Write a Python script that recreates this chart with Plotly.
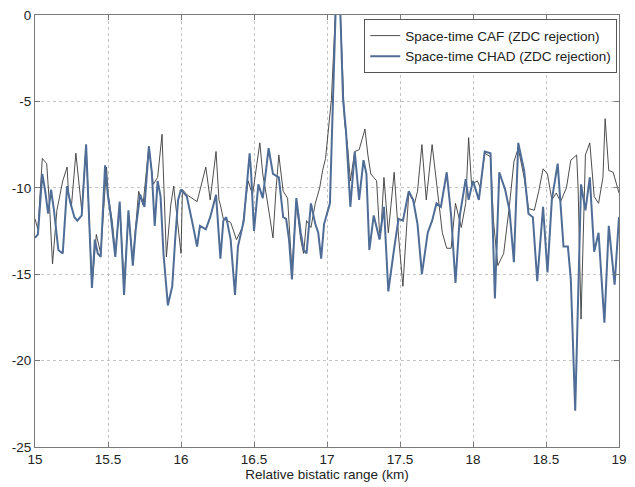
import plotly.graph_objects as go

CAF_X = [15.00, 15.02, 15.05, 15.08, 15.10, 15.12, 15.15, 15.19, 15.22, 15.23, 15.25, 15.28,
         15.32, 15.35, 15.39, 15.42, 15.45, 15.49, 15.50, 15.53, 15.55, 15.58, 15.61, 15.64,
         15.67, 15.69, 15.71, 15.74, 15.78, 15.81, 15.84, 15.87, 15.90, 15.93, 15.95, 15.97,
         16.00, 16.01, 16.04, 16.11, 16.17, 16.20, 16.24, 16.26, 16.27, 16.29, 16.34, 16.38,
         16.42, 16.46, 16.49, 16.54, 16.56, 16.59, 16.63, 16.65, 16.67, 16.70, 16.73, 16.76,
         16.79, 16.82, 16.84, 16.86, 16.89, 16.92, 16.95, 16.97, 16.99, 17.03, 17.06, 17.09,
         17.12, 17.14, 17.16, 17.19, 17.22, 17.26, 17.28, 17.30, 17.34, 17.36, 17.37, 17.39,
         17.42, 17.46, 17.49, 17.52, 17.56, 17.60, 17.62, 17.65, 17.68, 17.72, 17.75, 17.79,
         17.82, 17.85, 17.88, 17.92, 17.95, 17.97, 17.99, 18.03, 18.05, 18.08, 18.12, 18.14,
         18.17, 18.21, 18.25, 18.28, 18.31, 18.35, 18.38, 18.42, 18.45, 18.48, 18.51, 18.54,
         18.57, 18.60, 18.64, 18.67, 18.71, 18.72, 18.74, 18.77, 18.80, 18.83, 18.86, 18.89,
         18.905, 18.93, 18.96, 19.00]
CAF_Y = [-11.8, -12.4, -8.3, -8.6, -11.1, -14.4, -11.3, -9.6, -8.8, -10.4, -11.0, -8.0,
         -11.3, -7.5, -15.7, -12.7, -13.8, -8.8, -10.3, -12.0, -13.8, -11.0, -15.5, -11.6,
         -14.2, -12.0, -10.2, -11.0, -7.6, -9.8, -9.4, -6.9, -14.0, -11.0, -9.9, -11.5,
         -13.8, -10.1, -10.4, -10.8, -8.8, -10.7, -7.9, -10.7, -11.0, -11.8, -12.0, -13.0,
         -12.3, -9.6, -10.4, -7.4, -9.2, -10.7, -12.9, -10.2, -8.1, -10.2, -10.6, -14.8,
         -10.9, -13.0, -13.8, -11.9, -12.3, -10.9, -10.0, -9.0, -8.3, -4.9, 0.5, 0.5,
         -6.2, -7.5, -9.6, -7.9, -7.8, -6.6, -8.1, -9.2, -9.6, -12.6, -12.4, -9.4,
         -12.6, -9.1, -12.8, -15.7, -10.3, -10.9, -10.2, -7.5, -10.7, -7.5, -9.6, -12.6,
         -13.5, -13.5, -10.9, -12.3, -10.9, -7.1, -9.8, -9.6, -10.0, -8.0, -8.2, -11.9,
         -14.5, -13.8, -11.0, -8.5, -7.7, -9.4, -11.2, -11.3, -10.2, -8.9, -9.2, -10.7,
         -10.3, -10.8, -10.0, -8.4, -8.1, -10.0, -17.6, -8.1, -7.4, -10.5, -10.9, -9.4,
         -6.0, -9.0, -9.1, -10.3]

CHAD_X = [15.00, 15.02, 15.05, 15.07, 15.09, 15.11, 15.13, 15.16, 15.19, 15.22, 15.24, 15.27,
          15.29, 15.32, 15.35, 15.36, 15.39, 15.41, 15.43, 15.45, 15.48, 15.50, 15.52, 15.55,
          15.58, 15.61, 15.64, 15.67, 15.69, 15.72, 15.74, 15.75, 15.78, 15.80, 15.82, 15.84,
          15.86, 15.88, 15.91, 15.94, 15.96, 15.98, 16.00, 16.04, 16.08, 16.11, 16.13, 16.17,
          16.20, 16.24, 16.27, 16.29, 16.31, 16.34, 16.37, 16.39, 16.43, 16.47, 16.48, 16.50,
          16.53, 16.56, 16.60, 16.63, 16.67, 16.70, 16.72, 16.74, 16.76, 16.79, 16.82, 16.84,
          16.86, 16.89, 16.92, 16.94, 16.96, 16.98, 17.02, 17.04, 17.06, 17.09, 17.11, 17.13,
          17.16, 17.19, 17.21, 17.22, 17.25, 17.27, 17.29, 17.32, 17.34, 17.36, 17.39, 17.42,
          17.46, 17.49, 17.52, 17.56, 17.59, 17.62, 17.65, 17.69, 17.72, 17.75, 17.78, 17.82,
          17.85, 17.88, 17.91, 17.95, 17.97, 18.00, 18.04, 18.08, 18.12, 18.15, 18.18, 18.22,
          18.25, 18.28, 18.31, 18.35, 18.38, 18.41, 18.44, 18.48, 18.51, 18.54, 18.58, 18.60,
          18.62, 18.65, 18.67, 18.70, 18.72, 18.74, 18.77, 18.80, 18.83, 18.86, 18.90, 18.93,
          18.97, 19.00]
CHAD_Y = [-12.9, -12.7, -9.2, -10.2, -11.5, -10.1, -11.3, -13.6, -13.8, -9.9, -10.8, -11.7,
          -11.9, -11.6, -7.5, -9.8, -15.8, -13.0, -13.8, -14.0, -8.7, -10.5, -11.7, -14.0,
          -10.8, -16.2, -11.3, -14.5, -12.4, -10.4, -10.8, -11.1, -7.6, -9.1, -12.2, -9.6,
          -10.5, -13.8, -16.8, -15.7, -13.0, -10.7, -10.1, -10.5, -12.1, -13.4, -12.2, -12.4,
          -11.7, -10.4, -14.1, -11.9, -11.7, -13.0, -16.2, -13.4, -11.9, -8.0, -9.1, -12.5,
          -9.8, -10.6, -7.7, -9.2, -9.4, -11.7, -11.8, -13.0, -15.3, -10.6, -12.6, -13.6,
          -13.8, -10.9, -12.1, -12.6, -14.1, -12.1, -10.9, -4.9, 0.5, 0.5, -4.9, -6.7,
          -11.1, -7.9, -9.6, -10.7, -8.4, -9.2, -13.6, -11.6, -12.3, -13.0, -11.1, -16.0,
          -13.5, -11.8, -11.9, -10.2, -10.7, -12.1, -15.0, -12.6, -11.9, -10.9, -11.1, -9.1,
          -11.6, -15.5, -11.6, -9.5, -10.7, -9.6, -10.7, -7.9, -8.0, -16.4, -9.1, -10.1,
          -11.3, -14.3, -7.4, -9.0, -11.5, -11.7, -15.4, -11.1, -14.9, -10.7, -8.6, -10.9,
          -13.4, -13.4, -15.3, -22.9, -16.6, -9.8, -11.3, -9.4, -13.7, -12.6, -17.8, -12.2,
          -15.6, -11.7]

X_TICKS = [15, 15.5, 16, 16.5, 17, 17.5, 18, 18.5, 19]
X_LABELS = ["15", "15.5", "16", "16.5", "17", "17.5", "18", "18.5", "19"]
Y_TICKS = [0, -5, -10, -15, -20, -25]
Y_LABELS = ["0", "-5", "-10", "-15", "-20", "-25"]

FONT = "Liberation Sans, Arial"

fig = go.Figure()
fig.add_trace(go.Scatter(x=CAF_X, y=CAF_Y, mode="lines",
                         name="Space-time CAF (ZDC rejection)",
                         line=dict(color="#3a3a3a", width=0.9)))
fig.add_trace(go.Scatter(x=CHAD_X, y=CHAD_Y, mode="lines",
                         name="Space-time CHAD (ZDC rejection)",
                         line=dict(color="#4f6d96", width=2)))

axis_common = dict(showline=True, linecolor="#7a7a7a", linewidth=1, mirror="ticks",
                   ticks="inside", ticklen=5, tickcolor="#7a7a7a",
                   showgrid=True, gridcolor="#c4c4c4", griddash="dot", gridwidth=1,
                   zeroline=False, tickfont=dict(family=FONT, size=13.5, color="#222"))

fig.update_xaxes(range=[15, 19], tickvals=X_TICKS, ticktext=X_LABELS,
                 title=dict(text="Relative bistatic range (km)", standoff=2,
                            font=dict(family=FONT, size=13.5, color="#222")),
                 **axis_common)
fig.update_yaxes(range=[-25, 0], tickvals=Y_TICKS, ticktext=Y_LABELS, **axis_common)

fig.update_layout(
    width=635, height=487,
    margin=dict(l=35, r=12, t=8, b=40),
    paper_bgcolor="white", plot_bgcolor="white",
    showlegend=True,
    legend=dict(x=0.997, y=0.99, xanchor="right", yanchor="top", bgcolor="white",
                bordercolor="#555", borderwidth=1, tracegroupgap=0,
                font=dict(family=FONT, size=13.5, color="#222"),
                itemwidth=30),
)

fig.write_html("out.html")
